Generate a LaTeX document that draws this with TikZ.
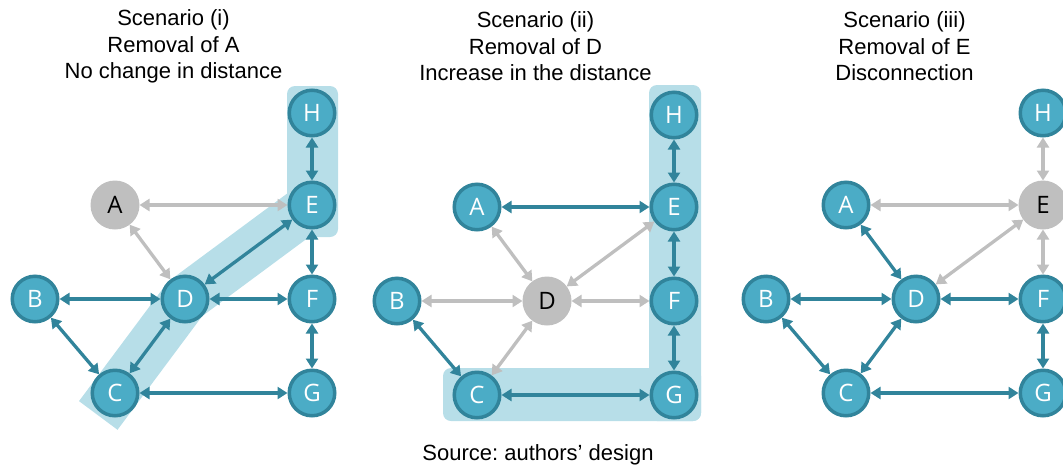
\documentclass[tikz,border=0pt]{standalone}
\usepackage{fontspec}
\setmainfont{Liberation Sans}
\newfontfamily\nodefont{Open Sans}
\usetikzlibrary{arrows.meta,calc,backgrounds}

\definecolor{nodeblue}{HTML}{4BACC6}
\definecolor{nodeedge}{HTML}{31849B}
\definecolor{linkteal}{HTML}{31849B}
\definecolor{offgray}{HTML}{BFBFBF}
\definecolor{pathband}{HTML}{B7DEE8}

\tikzset{
  site/.style={circle, minimum size=45.5pt, inner sep=0pt, line width=3.5pt,
    draw=nodeedge, fill=nodeblue, text=white,
    font=\nodefont\fontsize{24}{24}\selectfont},
  removed/.style={site, draw=none, fill=offgray, text=black,
    minimum size=49pt, outer sep=0pt},
  link/.style={line width=3.3pt, draw=linkteal,
    {Triangle[length=10pt,width=12pt]}-{Triangle[length=10pt,width=12pt]}},
  lostlink/.style={link, draw=offgray},
  caption/.style={align=center, font=\fontsize{22}{26.5}\selectfont\frenchspacing},
}

\begin{document}
\begin{tikzpicture}[x=1pt, y=-1pt]
\useasboundingbox (0,0) rectangle (1063,467);
\clip (0,0) rectangle (1063,467);

% ---------- Scenario (i): removal of A ----------
\begin{scope}[shift={(35,0)}]
  \node[caption] (t1) at (138.5,46.5) {Scenario (i)\\Removal of A\\No change in distance};
  \node[site] (h1) at (277,113) {H};
  \node[removed] (a1) at (80,205) {A};
  \node[site] (e1) at (277,205) {E};
  \node[site] (b1) at (0,299) {B};
  \node[site] (d1) at (150,299) {D};
  \node[site] (f1) at (277,299) {F};
  \node[site] (c1) at (80,393) {C};
  \node[site] (g1) at (277,393) {G};
  \begin{scope}[on background layer]
    \fill[pathband, rounded corners=8pt] (252,86) rectangle (303,237);
    \draw[pathband, line width=48pt, line join=miter]
      ($(c1)!-28pt!(d1)$) -- (d1.center) -- (e1.center);
  \end{scope}
  \draw[lostlink] (a1) -- (e1);
  \draw[lostlink] (a1) -- (d1);
  \draw[link] (h1) -- (e1);
  \draw[link] (e1) -- (d1);
  \draw[link] (e1) -- (f1);
  \draw[link] (b1) -- (d1);
  \draw[link] (d1) -- (f1);
  \draw[link] (b1) -- (c1);
  \draw[link] (c1) -- (d1);
  \draw[link] (f1) -- (g1);
  \draw[link] (c1) -- (g1);
\end{scope}

% ---------- Scenario (ii): removal of D ----------
\begin{scope}[shift={(397,2)}]
  \node[caption] (t2) at (138.5,44.5) {Scenario (ii)\\Removal of D\\Increase in the distance};
  \node[site] (h2) at (277,113) {H};
  \node[site] (a2) at (80,205) {A};
  \node[site] (e2) at (277,205) {E};
  \node[site] (b2) at (0,299) {B};
  \node[removed] (d2) at (150,299) {D};
  \node[site] (f2) at (277,299) {F};
  \node[site] (c2) at (80,393) {C};
  \node[site] (g2) at (277,393) {G};
  \begin{scope}[on background layer]
    \fill[pathband, rounded corners=8pt] (252,83) rectangle (304,419);
    \fill[pathband, rounded corners=8pt] (46,366) rectangle (304,419);
  \end{scope}
  \draw[link] (a2) -- (e2);
  \draw[lostlink] (a2) -- (d2);
  \draw[lostlink] (d2) -- (e2);
  \draw[lostlink] (b2) -- (d2);
  \draw[lostlink] (d2) -- (f2);
  \draw[lostlink] (c2) -- (d2);
  \draw[link] (b2) -- (c2);
  \draw[link] (c2) -- (g2);
  \draw[link] (h2) -- (e2);
  \draw[link] (e2) -- (f2);
  \draw[link] (f2) -- (g2);
\end{scope}

% ---------- Scenario (iii): removal of E ----------
\begin{scope}[shift={(766,0)}]
  \node[caption] (t3) at (138.5,46.5) {Scenario (iii)\\Removal of E\\Disconnection};
  \node[site] (h3) at (277,113) {H};
  \node[site] (a3) at (80,205) {A};
  \node[removed] (e3) at (277,205) {E};
  \node[site] (b3) at (0,299) {B};
  \node[site] (d3) at (150,299) {D};
  \node[site] (f3) at (277,299) {F};
  \node[site] (c3) at (80,393) {C};
  \node[site] (g3) at (277,393) {G};
  \draw[lostlink] (h3) -- (e3);
  \draw[lostlink] (a3) -- (e3);
  \draw[lostlink] (d3) -- (e3);
  \draw[lostlink] (e3) -- (f3);
  \draw[link] (a3) -- (d3);
  \draw[link] (b3) -- (d3);
  \draw[link] (d3) -- (f3);
  \draw[link] (b3) -- (c3);
  \draw[link] (c3) -- (d3);
  \draw[link] (f3) -- (g3);
  \draw[link] (c3) -- (g3);
\end{scope}

\node[caption] (src) at (538,455) {Source: authors’ design};
\end{tikzpicture}
\end{document}
